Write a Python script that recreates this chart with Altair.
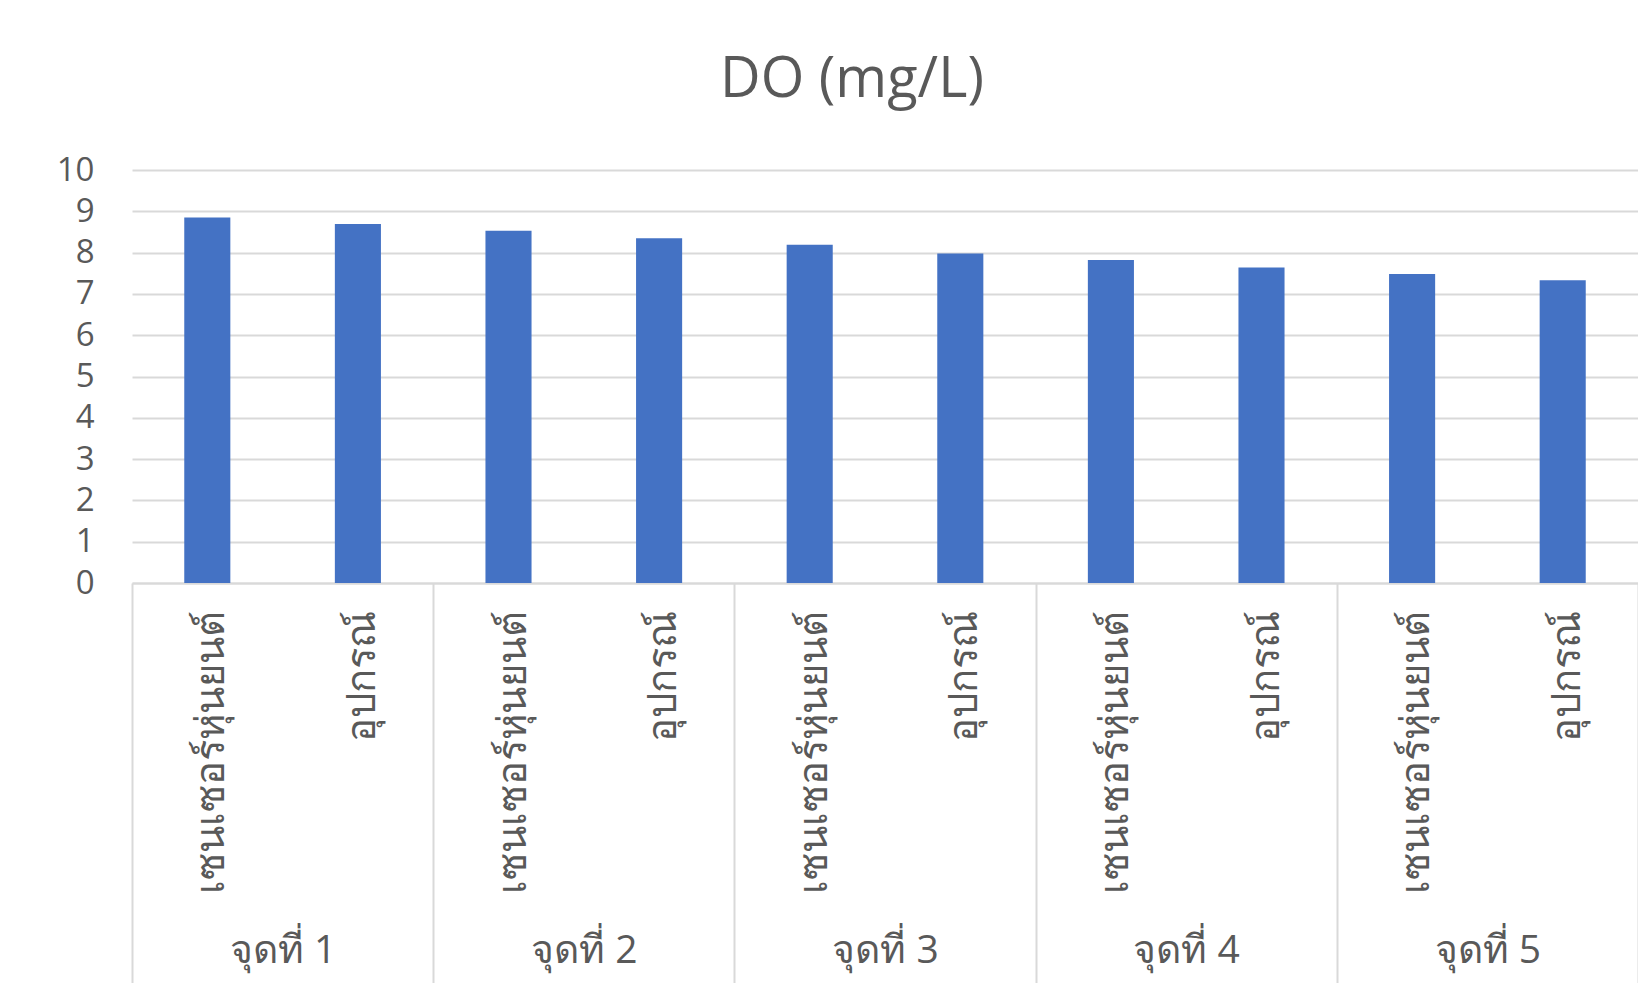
import altair as alt
import pandas as pd

groups = ["จุดที่ 1", "จุดที่ 2", "จุดที่ 3", "จุดที่ 4", "จุดที่ 5"]
types = ["เซนเซอร์หุ่นยนต์", "อุปกรณ์"]
sensor_values = [8.85, 8.53, 8.19, 7.82, 7.48]
device_values = [8.69, 8.35, 7.98, 7.64, 7.33]
y_ticks = [0, 1, 2, 3, 4, 5, 6, 7, 8, 9, 10]

rows = []
for g, s, d in zip(groups, sensor_values, device_values):
    rows.append({"group": g, "type": types[0], "value": s})
    rows.append({"group": g, "type": types[1], "value": d})
df = pd.DataFrame(rows)

W, H = 1506, 413
FONT = "Open Sans"
TXT = "#595959"
GRID = "#d9d9d9"

x = alt.X(
    "group:N", sort=groups,
    scale=alt.Scale(paddingInner=0, paddingOuter=0),
    axis=alt.Axis(title=None, labelAngle=0, tickBand="extent", tickSize=400,
                  tickColor=GRID, tickWidth=2, domainColor=GRID, domainWidth=2,
                  labelPadding=-52, labelFontSize=39, labelColor=TXT, labelFont=FONT,
                  labelBaseline="top", grid=False),
)
xoff = alt.XOffset("type:N", sort=types,
                   scale=alt.Scale(paddingInner=0.694, paddingOuter=0.347))

bars = alt.Chart(df).mark_bar(color="#4472C4").encode(
    x=x, xOffset=xoff,
    y=alt.Y("value:Q", scale=alt.Scale(domain=[0, 10]),
            axis=alt.Axis(title=None, values=y_ticks, ticks=False, domain=False,
                          labelPadding=38, labelFontSize=33, labelColor=TXT,
                          labelFont=FONT, gridColor=GRID, gridWidth=2)),
)

labels = alt.Chart(df).mark_text(
    angle=270, align="right", baseline="middle", fontSize=40, font=FONT,
    color=TXT, dy=5
).encode(x=x, xOffset=xoff, y=alt.value(H + 28), text="type:N")

chart = alt.layer(bars, labels).properties(
    width=W, height=H,
    padding={"left": 124, "top": 162, "right": 0, "bottom": 400},
    autosize=alt.AutoSizeParams(type="none"),
    title=alt.TitleParams("DO (mg/L)", fontSize=56, font=FONT, color=TXT,
                          fontWeight="normal", offset=45, dx=-33),
).configure_view(stroke=None)

chart.save("out.html", embed_options={"renderer": "svg", "actions": False})
